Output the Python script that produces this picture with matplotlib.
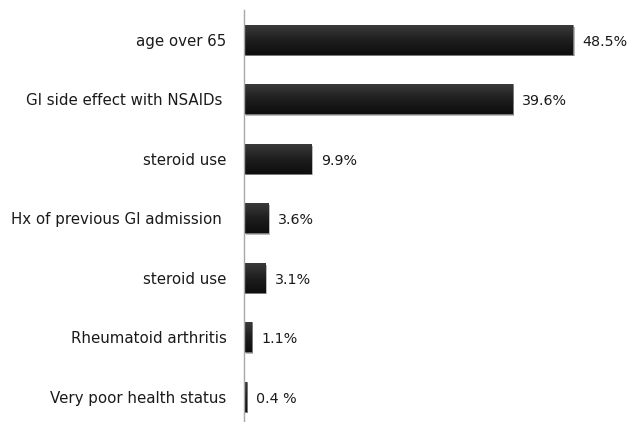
import numpy as np
import matplotlib
matplotlib.use("Agg")
import matplotlib.pyplot as plt
from matplotlib import patheffects

# Risk factors and their shares (%)
factors = [
    "age over 65",
    "GI side effect with NSAIDs ",
    "steroid use",
    "Hx of previous GI admission ",
    "steroid use",
    "Rheumatoid arthritis",
    "Very poor health status",
]
shares = [48.5, 39.6, 9.9, 3.6, 3.1, 1.1, 0.4]
value_labels = ["48.5%", "39.6%", "9.9%", "3.6%", "3.1%", "1.1%", "0.4 %"]

plt.rcParams["font.family"] = ["DejaVu Sans"]

fig = plt.figure(figsize=(6.29, 4.22), dpi=100)
ax = fig.add_axes([0.388, -0.0107, 0.593, 0.987])

ypos = np.arange(len(factors))
bars = ax.barh(ypos, shares, height=0.5, color="#1c1c1c",
               edgecolor="#7d7d7d", linewidth=0.6, zorder=3)

# soft drop shadow and a dark vertical gradient on each bar
grad = np.linspace(0.0, 1.0, 64).reshape(-1, 1)
cmap = matplotlib.colors.LinearSegmentedColormap.from_list(
    "bar_shade", ["#3a3a3a", "#1e1e1e", "#0e0e0e"])
for bar in bars:
    bar.set_path_effects([
        patheffects.SimplePatchShadow(offset=(1.2, -1.2),
                                      shadow_rgbFace="#808080", alpha=0.55),
        patheffects.Normal(),
    ])
    x0, y0 = bar.get_x(), bar.get_y()
    w, h = bar.get_width(), bar.get_height()
    im = ax.imshow(grad, cmap=cmap, aspect="auto",
                   extent=(x0, x0 + w, y0 + h, y0), zorder=3.5,
                   interpolation="bicubic")
    im.set_clip_path(bar)

for bar, txt in zip(bars, value_labels):
    ax.annotate(txt, xy=(bar.get_width(), bar.get_y() + bar.get_height() / 2),
                xytext=(7.0, -1.5), textcoords="offset points",
                ha="left", va="center", fontsize=10.3, color="#1a1a1a")

ax.set_xlim(0, 55)
ax.set_ylim(len(factors) - 0.5, -0.5)
ax.set_yticks(ypos)
ax.set_yticklabels(factors, fontsize=10.8, color="#1a1a1a")
ax.tick_params(axis="y", length=0, pad=12.5)
ax.set_xticks([])

for side in ("top", "right", "bottom"):
    ax.spines[side].set_visible(False)
ax.spines["left"].set_color("#a8a8a8")
ax.spines["left"].set_linewidth(1.0)
ax.spines["left"].set_zorder(5)

fig.savefig("out.png", dpi=100, facecolor="white")
